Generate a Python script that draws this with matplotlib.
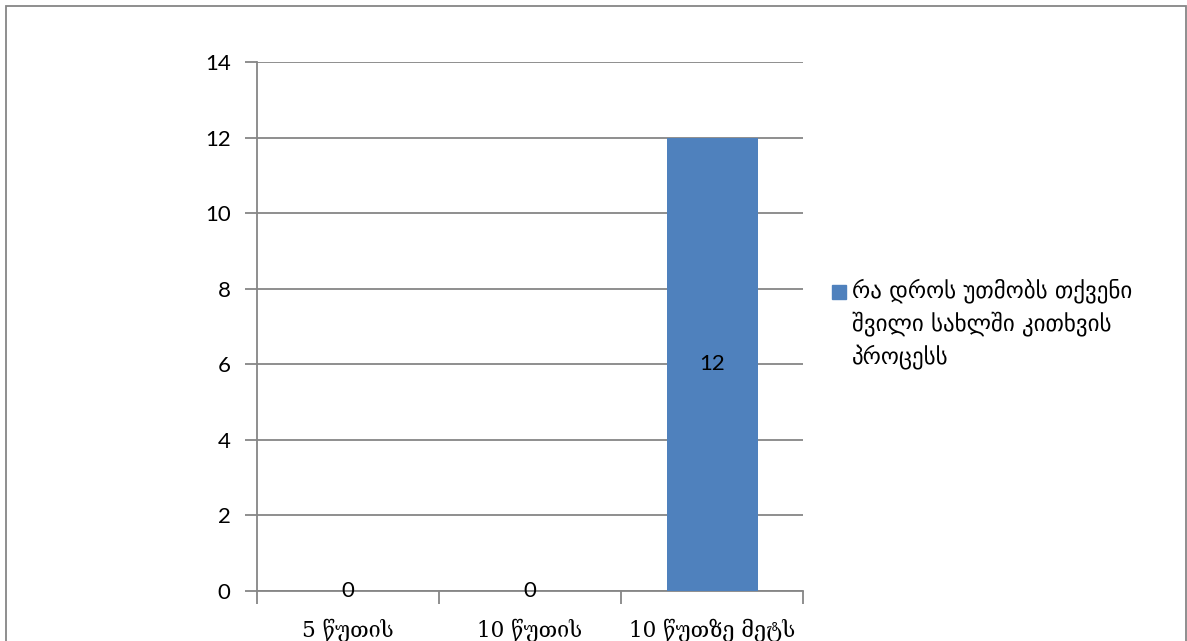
import matplotlib.pyplot as plt
from matplotlib.patches import Rectangle
import numpy as np

categories = ['5 წუთის', '10 წუთის', '10 წუთზე მეტს']
values = [0, 0, 12]
series_name = 'რა დროს უთმობს თქვენი\nშვილი სახლში კითხვის\nპროცესს'
yticks = [0, 2, 4, 6, 8, 10, 12, 14]

grid_col = '#868686'
bar_col = '#4F81BD'

fig = plt.figure(figsize=(11.87, 6.41), dpi=100)
ax = fig.add_axes([257 / 1187, 1 - 591 / 641, (803 - 257) / 1187, (591 - 62) / 641])

x = np.arange(len(categories))
ax.bar(x, values, width=0.5, color=bar_col, zorder=3)

ax.set_xlim(-0.5, len(categories) - 0.5)
ax.set_ylim(0, 14)
ax.set_yticks(yticks)
ax.set_yticklabels([str(v) for v in yticks], fontsize=16, family='Lato')
ax.yaxis.grid(True, color=grid_col, lw=1.3, zorder=0)
ax.tick_params(axis='y', length=9, width=1.3, color=grid_col, pad=10)

ax.set_xticks(x)
ax.set_xticklabels(categories, fontsize=15.5, family=['DejaVu Serif', 'DejaVu Sans'])
ax.set_xticks(np.arange(len(categories) + 1) - 0.5, minor=True)
ax.tick_params(axis='x', which='major', length=0, pad=20)
ax.tick_params(axis='x', which='minor', length=9, width=1.3, color=grid_col)

for s in ['top', 'right']:
    ax.spines[s].set_visible(False)
for s in ['left', 'bottom']:
    ax.spines[s].set_color(grid_col)
    ax.spines[s].set_linewidth(1.3)

# data labels
for xi, v in zip(x, values):
    ax.text(xi, v / 2, str(v), ha='center', va='center', fontsize=16, family='Lato', zorder=4)

# legend
fig.patches.append(Rectangle((832 / 1187, 1 - 299 / 641), 14 / 1187, 14 / 641,
                             transform=fig.transFigure, color=bar_col))
fig.text(852 / 1187, 1 - 278 / 641, series_name, fontsize=16.5, va='top', ha='left',
         linespacing=1.45, family='DejaVu Sans')

# outer chart border
fig.patches.append(Rectangle((6 / 1187, -0.05), 1180 / 1187, 1.05 - 6 / 641,
                             transform=fig.transFigure, fill=False, ec=grid_col, lw=1.3))

fig.savefig('out.png', dpi=100)
